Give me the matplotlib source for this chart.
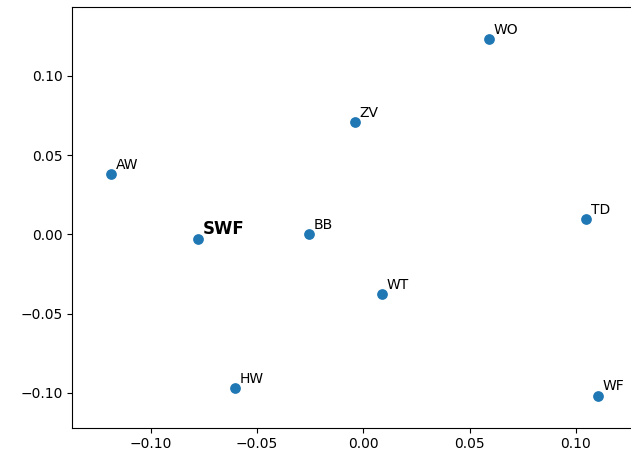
import matplotlib
matplotlib.use('Agg')
import matplotlib.pyplot as plt

# 2D coordinates of each label
names = ['AW', 'SWF', 'BB', 'ZV', 'WO', 'TD', 'WT', 'HW', 'WF']
xs = [-0.1186, -0.0779, -0.0255, -0.0039, 0.0590, 0.1046, 0.0087, -0.0603, 0.1102]
ys = [0.0379, -0.0032, 0.0000, 0.0708, 0.1230, 0.0095, -0.0379, -0.0970, -0.1020]
highlight = 'SWF'

fig = plt.figure(figsize=(6.31, 4.57), dpi=100)
ax = fig.add_axes([72.3 / 631, (457 - 427.7) / 457, (634 - 72.3) / 631, (427.7 - 7.3) / 457])

ax.scatter(xs, ys, s=45)
for name, x, y in zip(names, xs, ys):
    if name == highlight:
        ax.annotate(name, (x, y), xytext=(3.5, 4), textcoords='offset points',
                    fontsize=12, fontweight='bold')
    else:
        ax.annotate(name, (x, y), xytext=(3.5, 4), textcoords='offset points', fontsize=10)

ax.set_xlim(-0.1368, 0.1273)
ax.set_ylim(-0.122, 0.1432)

fig.savefig('out.png', dpi=100)
